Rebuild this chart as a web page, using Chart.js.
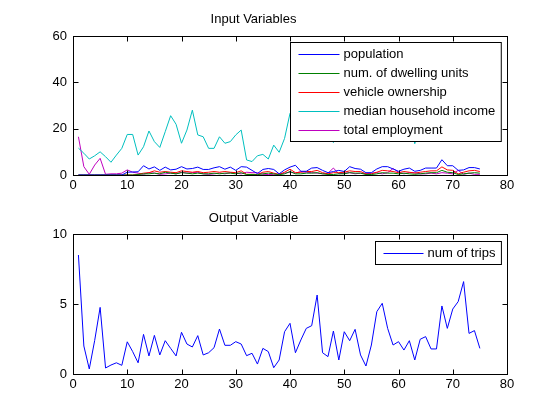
<!DOCTYPE html>
<html><head><meta charset="utf-8">
<script src="https://cdn.jsdelivr.net/npm/chart.js@4/dist/chart.umd.min.js"></script>
<style>
html,body{margin:0;padding:0;background:#fff;width:560px;height:420px;overflow:hidden}
#wrap{position:relative;width:560px;height:420px;background:#fff}
canvas{position:absolute;left:0}
</style></head><body>
<div id="wrap">
<canvas id="c1" width="560" height="200" style="top:0px"></canvas>
<canvas id="c2" width="560" height="220" style="top:200px"></canvas>
</div>
<script>
// ---- data ----
const xValues = [1,2,3,4,5,6,7,8,9,10,11,12,13,14,15,16,17,18,19,20,21,22,23,24,25,26,27,28,29,30,31,32,33,34,35,36,37,38,39,40,41,42,43,44,45,46,47,48,49,50,51,52,53,54,55,56,57,58,59,60,61,62,63,64,65,66,67,68,69,70,71,72,73,74,75];

const population = [0,0,0,0,0,0,0,0,0,1.2, 1.3,1.4,4.0,2.6,3.5,2.0,3.4,2.2,2.5,3.6, 2.6,2.8,3.4,2.4,2.4,3.1,3.6,2.5,3.4,2.0, 3.6,3.4,2.0,0.6,2.4,2.8,2.4,0.5,2.2,3.4, 4.2,1.6,1.6,3.0,3.2,2.0,1.0,1.5,2.0,1.5, 3.6,2.8,2.5,1.0,1.0,2.6,3.6,3.6,2.6,1.6, 2.5,3.0,1.6,2.0,3.0,3.0,3.0,6.6,4.0,4.0, 2.0,2.2,3.2,3.2,2.6];
const dwellingUnits = [0,0,0,0,0,0,0,0,0,0, 0,0.2,0.5,0.5,0.8,0.5,1.2,0.8,0.5,1.0, 0.8,0.5,0.8,0.5,0.5,0.8,0.5,0.8,0.8,0.5, 1.0,0.2,0.2,0.1,0.5,0.8,0.5,0.1,0.5,1.5, 0.5,0.5,0.8,0.8,1.0,0.5,0.2,0.2,0.5,0.5, 1.0,0.8,0.8,0.2,0.2,0.5,1.0,0.8,0.8,0.5, 0.8,0.5,0.3,0.5,0.8,1.0,1.0,2.0,1.2,1.0, 0.2,0.5,0.8,1.0,0.8];
const vehicleOwnership = [0,0,0,0,0,0,0,0,0,0, 0,0.3,0.8,1.0,1.8,1.2,1.5,1.2,1.0,1.8, 1.5,1.2,1.5,1.0,1.2,1.5,1.2,1.5,1.2,1.0, 1.8,0.3,0.3,0.2,1.2,1.5,0.8,0.2,1.2,2.5, 1.0,1.2,1.5,1.5,2.0,1.0,0.5,1.0,1.0,1.2, 1.8,1.5,1.5,0.5,0.5,1.2,2.0,1.8,1.5,1.0, 1.5,1.2,0.8,1.2,1.5,1.8,1.8,3.5,2.2,2.0, 0.5,1.2,1.8,2.0,1.5];
const medianIncome = [11.6,9.4,6.9,8.3,10.0,7.9,5.5,8.6,11.5,17.5, 17.5,8.6,12.2,19.0,14.4,11.9,18.7,25.6,21.9,13.7, 19.4,28.0,17.3,16.5,11.5,11.5,16.5,13.7,14.4,17.3, 19.4,6.5,5.8,8.3,8.9,6.9,12.9,9.8,15.8,26.6, 30,35,27,24,31,26,20,14,22,27, 33,24,20,28,25,30,36,29,22,26, 31,24,13.5,21,27,25,32,38,30,26, 22,28,33,27,24];
const totalEmployment = [16.5,3.6,0.3,4.3,7.2,0.3,0.5,0.5,0.8,2.2, 1.2,0.8,0.3,1.0,0.8,0.3,0.5,0.8,0.5,1.2, 0.8,1.0,1.2,0.5,0.3,0.5,0.8,0.5,1.0,0.8, 0.5,1.2,1.0,1.0,0.3,0.2,0.3,0.5,0.8,1.2, 0.8,1.5,1.2,1.0,0.8,0.5,0.8,3.0,0.5,0.8, 1.0,0.5,0.8,0.5,0.8,1.0,0.5,1.0,2.8,1.2, 0.5,1.0,1.0,0.5,0.5,0.8,0.5,1.0,0.8,0.5, 2.0,0.3,0.8,0.3,0.3];
const numTrips = [8.5,2.0,0.36,2.4,4.76,0.43,0.64,0.8,0.62,2.3, 1.6,0.8,2.83,1.29,2.76,1.36,2.38,1.83,1.29,2.98, 2.14,1.93,2.74,1.36,1.52,1.88,3.21,2.05,2.05,2.31, 2.14,1.31,1.48,0.71,1.83,1.6,0.45,1.0,3.02,3.62, 1.52,2.43,3.26,3.45,5.64,1.52,1.24,3.07,1.0,3.02, 2.38,3.19,1.36,0.57,2.07,4.45,5.05,3.26,2.07,2.31, 1.71,2.38,1.0,2.48,2.67,1.79,1.79,4.86,3.26,4.64, 5.17,6.6,2.9,3.1,1.83];

const inputLabels = ['population','num. of dwelling units','vehicle ownership','median household income','total employment'];
const outputLabels = ['num of trips'];
const xTicks = [0,10,20,30,40,50,60,70,80];
const yTicksTop = [0,20,40,60];
const yTicksBottom = [0,5,10];

// ---- styling ----
const FONT = "'Liberation Sans', Arial, Helvetica, sans-serif";
Chart.defaults.font.family = FONT;
Chart.defaults.font.size = 13;
Chart.defaults.color = '#000';
Chart.defaults.animation = false;

function pts(arr){ return arr.map((v,i)=>({x:xValues[i], y:v})); }

const matlabAxes = {
  id: 'matlabAxes',
  afterDatasetsDraw(chart, args, opts){
    const ctx = chart.ctx, a = chart.chartArea;
    const xs = chart.scales.x, ys = chart.scales.y;
    const L = Math.round(a.left)+0.5, R = Math.round(a.right)+0.5;
    const T = Math.round(a.top)+0.5, B = Math.round(a.bottom)+0.5;
    ctx.save();
    ctx.strokeStyle = '#000'; ctx.lineWidth = 1;
    ctx.strokeRect(L, T, R-L, B-T);
    const tl = 5;
    ctx.beginPath();
    xs.ticks.forEach(t=>{
      const p = Math.round(xs.getPixelForValue(t.value))+0.5;
      ctx.moveTo(p,B); ctx.lineTo(p,B-tl);
      ctx.moveTo(p,T); ctx.lineTo(p,T+tl);
    });
    ys.ticks.forEach(t=>{
      const p = Math.round(ys.getPixelForValue(t.value))+0.5;
      ctx.moveTo(L,p); ctx.lineTo(L+tl,p);
      ctx.moveTo(R,p); ctx.lineTo(R-tl,p);
    });
    ctx.stroke();
    // legend box
    const ds = chart.data.datasets;
    ctx.font = '13px ' + FONT;
    let maxW = 0;
    ds.forEach(d=>{ maxW = Math.max(maxW, ctx.measureText(d.label).width); });
    const padL = 8, lineLen = opts.lineLen, gap = 4, padR = 6;
    const w = padL + lineLen + gap + maxW + padR;
    const h = 19*(ds.length-1) + 23;
    const bx = Math.round(a.right - opts.gapRight - w)+0.5;
    const by = Math.round(a.top + opts.gapTop)+0.5;
    ctx.fillStyle = '#fff';
    ctx.fillRect(bx, by, w, h);
    ctx.strokeRect(bx, by, w, h);
    ctx.textBaseline = 'middle'; ctx.textAlign = 'left';
    ds.forEach((d,i)=>{
      const yy = Math.round(by + 11.5 + 19*i)+0.5;
      ctx.beginPath();
      ctx.strokeStyle = d.borderColor;
      ctx.moveTo(bx+padL, yy); ctx.lineTo(bx+padL+lineLen, yy);
      ctx.stroke();
      ctx.fillStyle = '#000';
      ctx.fillText(d.label, bx+padL+lineLen+gap, yy);
    });
    ctx.restore();
  }
};

function makeChart(id, datasets, title, titlePad, yMax, yStep, yTickList, xHeight, legendOpts){
  return new Chart(document.getElementById(id), {
    type: 'line',
    data: { datasets },
    plugins: [matlabAxes],
    options: {
      responsive: false,
      animation: false,
      parsing: true,
      layout: { padding: { left: 0, right: 53, top: 0, bottom: 0 } },
      elements: { point: { radius: 0 }, line: { borderWidth: 1, tension: 0 } },
      plugins: {
        legend: { display: false },
        tooltip: { enabled: false },
        title: { display: true, text: title, color: '#000',
                 font: { size: 13, weight: 'normal', family: FONT, lineHeight: 1.2 },
                 padding: titlePad },
        matlabAxes: legendOpts
      },
      scales: {
        x: {
          type: 'linear', min: 0, max: 80,
          afterBuildTicks: s => { s.ticks = xTicks.map(v=>({value:v})); },
          ticks: { stepSize: 10, padding: 3, color: '#000', font: { size: 13 }, maxRotation: 0 },
          grid: { display: false, drawTicks: false },
          border: { display: false },
          afterFit: s => { s.height = xHeight; }
        },
        y: {
          type: 'linear', min: 0, max: yMax,
          afterBuildTicks: s => { s.ticks = yTickList.map(v=>({value:v})); },
          ticks: { stepSize: yStep, padding: 6, color: '#000', font: { size: 13 } },
          grid: { display: false, drawTicks: false },
          border: { display: false },
          afterFit: s => { s.width = 73; }
        }
      }
    }
  });
}

const colors = ['#0000ff','#008000','#ff0000','#00bfbf','#bf00bf'];
const inputSeries = [population, dwellingUnits, vehicleOwnership, medianIncome, totalEmployment];
const ds1 = inputSeries.map((arr,i)=>({
  label: inputLabels[i], data: pts(arr), borderColor: colors[i], backgroundColor: colors[i],
  borderWidth: 1, pointRadius: 0, fill: false
}));
makeChart('c1', ds1, 'Input Variables', {top:12, bottom:8.4}, 60, 20, yTicksTop, 25,
  {lineLen: 41, gapRight: 6, gapTop: 6});

const ds2 = [{
  label: outputLabels[0], data: pts(numTrips), borderColor: '#0000ff', backgroundColor: '#0000ff',
  borderWidth: 1, pointRadius: 0, fill: false
}];
makeChart('c2', ds2, 'Output Variable', {top:11, bottom:7.4}, 10, 5, yTicksBottom, 46,
  {lineLen: 40, gapRight: 6, gapTop: 7});
</script>
</body></html>
